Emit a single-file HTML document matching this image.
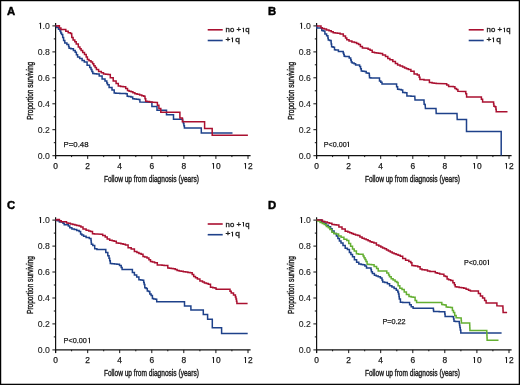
<!DOCTYPE html>
<html><head><meta charset="utf-8"><style>
html,body{margin:0;padding:0;background:#fff;}
body{width:520px;height:385px;overflow:hidden;}
svg{display:block;will-change:transform;}
text{font-family:"Liberation Sans",sans-serif;fill:#1a1a1a;stroke:#1a1a1a;stroke-width:0.25px;}
.lt{font-size:11.3px;font-weight:bold;fill:#000;stroke:#000;stroke-width:0.45px;}
.tl{font-size:8.4px;}
.ty{font-size:8.7px;stroke-width:0.12px;}
.al{font-size:9.4px;stroke-width:0.4px;}
.lg{font-size:7.4px;stroke-width:0.32px;}
.pv{font-size:7.8px;}
.one{fill-opacity:0;stroke-opacity:0;}
.ax{stroke:#111;stroke-width:1.2;fill:none;}
.tk{stroke:#111;stroke-width:1.0;fill:none;}
</style></head><body>
<svg width="520" height="385" viewBox="0 0 520 385">
<rect x="0.6" y="0.6" width="518.75" height="383.75" fill="#fff" stroke="#000" stroke-width="1.25"/>
<text x="7.1" y="15.1" class="lt">A</text>
<path d="M55.6,23.1 V158.7" class="ax"/>
<path d="M55.0,155.7 H250.6" class="ax"/>
<path d="M52.4,155.7 H55.6" class="tk"/>
<text x="49.8" y="158.60" class="tl ty" text-anchor="end">0.0</text>
<path d="M53.8,142.7 H55.6" class="tk"/>
<path d="M52.4,129.7 H55.6" class="tk"/>
<text x="49.8" y="132.64" class="tl ty" text-anchor="end">0.2</text>
<path d="M53.8,116.8 H55.6" class="tk"/>
<path d="M52.4,103.8 H55.6" class="tk"/>
<text x="49.8" y="106.68" class="tl ty" text-anchor="end">0.4</text>
<path d="M53.8,90.8 H55.6" class="tk"/>
<path d="M52.4,77.8 H55.6" class="tk"/>
<text x="49.8" y="80.72" class="tl ty" text-anchor="end">0.6</text>
<path d="M53.8,64.8 H55.6" class="tk"/>
<path d="M52.4,51.9 H55.6" class="tk"/>
<text x="49.8" y="54.76" class="tl ty" text-anchor="end">0.8</text>
<path d="M53.8,38.9 H55.6" class="tk"/>
<path d="M52.4,25.9 H55.6" class="tk"/>
<text x="49.8" y="28.80" class="tl ty" text-anchor="end"><tspan class="one">1</tspan>.0</text>
<path d="M55.6,155.7 V158.9" class="tk"/>
<text x="55.6" y="168.7" class="tl" text-anchor="middle">0</text>
<path d="M71.6,155.7 V157.1" class="tk"/>
<path d="M87.7,155.7 V158.9" class="tk"/>
<text x="87.7" y="168.7" class="tl" text-anchor="middle">2</text>
<path d="M103.7,155.7 V157.1" class="tk"/>
<path d="M119.7,155.7 V158.9" class="tk"/>
<text x="119.7" y="168.7" class="tl" text-anchor="middle">4</text>
<path d="M135.8,155.7 V157.1" class="tk"/>
<path d="M151.8,155.7 V158.9" class="tk"/>
<text x="151.8" y="168.7" class="tl" text-anchor="middle">6</text>
<path d="M167.8,155.7 V157.1" class="tk"/>
<path d="M183.8,155.7 V158.9" class="tk"/>
<text x="183.8" y="168.7" class="tl" text-anchor="middle">8</text>
<path d="M199.9,155.7 V157.1" class="tk"/>
<path d="M215.9,155.7 V158.9" class="tk"/>
<text x="215.9" y="168.7" class="tl" text-anchor="middle"><tspan class="one">1</tspan>0</text>
<path d="M231.9,155.7 V157.1" class="tk"/>
<path d="M248.0,155.7 V158.9" class="tk"/>
<text x="248.0" y="168.7" class="tl" text-anchor="middle"><tspan class="one">1</tspan>2</text>
<text x="151.4" y="181.7" class="al" text-anchor="middle" textLength="95" lengthAdjust="spacingAndGlyphs">Follow up from diagnosis (years)</text>
<text transform="translate(32.8,90.8) rotate(-90)" x="0" y="0" class="al" text-anchor="middle" textLength="58" lengthAdjust="spacingAndGlyphs">Proportion surviving</text>
<path d="M207.7,29.8 H222.7" stroke="#aa1030" stroke-width="1.6"/>
<path d="M207.7,40.5 H222.7" stroke="#1e418a" stroke-width="1.6"/>
<text transform="translate(225.6,32.3) scale(1,0.9)" class="lg" textLength="24.0" lengthAdjust="spacingAndGlyphs">no +<tspan class="one">1</tspan>q</text>
<text transform="translate(225.6,42.2) scale(1,0.9)" class="lg" textLength="14.2" lengthAdjust="spacingAndGlyphs">+<tspan class="one">1</tspan>q</text>
<text x="63.6" y="147.2" class="pv">P=0.48</text>
<path d="M55.6,25.9 L56.6,25.9 L56.6,27.4 L57.6,27.4 L58.5,27.4 L58.5,29.2 L59.4,29.2 L60.0,29.2 L60.0,31.0 L60.6,31.0 L60.8,31.0 L60.8,33.1 L60.9,33.1 L61.6,33.1 L61.6,34.6 L62.4,34.6 L62.7,34.6 L62.7,37.5 L63.0,37.5 L63.6,37.5 L63.6,40.4 L64.2,40.4 L64.8,40.4 L64.8,43.1 L65.4,43.1 L66.9,43.1 L66.9,44.6 L68.4,44.6 L68.6,44.6 L68.6,46.4 L69.1,46.4 L69.1,48.2 L69.3,48.2 L70.9,48.2 L70.9,48.8 L72.5,48.8 L73.4,48.8 L73.4,50.6 L74.3,50.6 L75.2,50.6 L75.2,52.3 L76.1,52.3 L76.4,52.3 L76.4,54.7 L76.7,54.7 L77.6,54.7 L77.6,57.1 L78.5,57.1 L79.7,57.1 L79.7,58.6 L80.9,58.6 L82.1,58.6 L82.1,60.4 L84.3,60.4 L84.3,62.1 L85.5,62.1 L87.1,62.1 L87.1,65.3 L88.7,65.3 L89.7,65.3 L89.7,67.6 L90.6,67.6 L91.0,67.6 L91.0,69.5 L91.9,69.5 L91.9,71.5 L92.8,71.5 L92.8,73.4 L93.2,73.4 L94.3,73.4 L94.3,73.7 L96.5,73.7 L96.5,74.0 L97.6,74.0 L99.2,74.0 L99.2,75.9 L100.8,75.9 L102.1,75.9 L102.1,79.1 L103.4,79.1 L105.0,79.1 L105.0,81.0 L106.5,81.0 L106.8,81.0 L106.8,82.9 L107.5,82.9 L107.5,84.8 L107.8,84.8 L109.1,84.8 L109.1,87.4 L110.4,87.4 L112.0,87.4 L112.0,89.9 L113.5,89.9 L114.2,89.9 L114.2,93.1 L114.8,93.1 L115.8,93.1 L115.8,93.2 L117.8,93.2 L117.8,93.3 L119.8,93.3 L119.8,93.4 L121.9,93.4 L121.9,93.5 L123.9,93.5 L123.9,93.6 L125.9,93.6 L125.9,93.7 L126.9,93.7 L127.2,93.7 L127.2,96.3 L127.5,96.3 L128.6,96.3 L128.6,96.6 L130.9,96.6 L130.9,96.9 L132.0,96.9 L132.7,96.9 L132.7,98.8 L133.3,98.8 L134.4,98.8 L134.4,99.0 L136.4,99.0 L136.4,99.2 L138.6,99.2 L138.6,99.4 L139.6,99.4 L139.9,99.4 L139.9,102.0 L140.3,102.0 L151.9,102.2 L151.9,106.5 L157.0,106.5 L157.0,110.3 L166.5,110.3 L166.5,114.7 L173.5,114.7 L173.5,119.2 L182.4,119.2 L182.7,119.2 L182.7,121.4 L183.4,121.4 L183.4,123.6 L183.7,123.6 L183.9,123.6 L183.9,125.8 L184.4,125.8 L184.4,128.1 L184.6,128.1 L201.3,128.1 L201.3,132.9 L232.5,132.9" fill="none" stroke="#1e418a" stroke-width="1.5" stroke-linejoin="miter" stroke-linecap="butt"/>
<path d="M55.6,25.9 L58.8,25.7 L59.4,25.7 L59.4,28.0 L60.0,28.0 L60.9,28.0 L60.9,29.5 L61.8,29.5 L64.8,29.6 L65.8,29.6 L65.8,31.3 L66.9,31.3 L68.2,31.3 L68.2,32.8 L69.5,32.8 L70.5,32.8 L70.5,33.5 L71.6,33.5 L71.7,33.5 L71.7,35.5 L71.8,35.5 L71.8,37.5 L71.9,37.5 L73.1,37.5 L73.1,39.9 L74.3,39.9 L74.8,39.9 L74.8,41.7 L75.2,41.7 L76.2,41.7 L76.2,44.1 L77.3,44.1 L78.3,44.1 L78.3,47.0 L79.3,47.0 L79.9,47.0 L79.9,48.8 L81.1,48.8 L81.1,50.6 L81.7,50.6 L82.7,50.6 L82.7,52.5 L84.5,52.5 L84.5,54.4 L85.5,54.4 L86.2,54.4 L86.2,57.0 L87.4,57.0 L87.4,59.5 L88.1,59.5 L89.0,59.5 L89.0,60.7 L91.0,60.7 L91.0,61.9 L91.9,61.9 L92.6,61.9 L92.6,63.8 L93.8,63.8 L93.8,65.7 L94.5,65.7 L95.1,65.7 L95.1,67.6 L96.4,67.6 L96.4,69.5 L97.0,69.5 L98.6,69.5 L98.6,71.5 L100.2,71.5 L101.3,71.5 L101.3,72.8 L103.5,72.8 L103.5,74.0 L104.6,74.0 L105.7,74.0 L105.7,74.3 L108.0,74.3 L108.0,74.6 L109.1,74.6 L110.3,74.6 L110.3,77.8 L111.6,77.8 L113.2,77.8 L113.2,81.0 L114.8,81.0 L116.1,81.0 L116.1,83.5 L117.4,83.5 L118.3,83.5 L118.3,86.1 L119.3,86.1 L120.6,86.1 L120.6,86.4 L123.1,86.4 L123.1,86.7 L124.4,86.7 L125.7,86.7 L125.7,88.6 L126.9,88.6 L127.5,88.6 L127.5,90.5 L128.2,90.5 L129.1,90.5 L129.1,91.2 L131.1,91.2 L131.1,91.8 L132.0,91.8 L132.9,91.8 L132.9,92.8 L134.9,92.8 L134.9,93.7 L135.8,93.7 L137.1,93.7 L137.1,94.3 L139.6,94.3 L139.6,95.0 L140.9,95.0 L141.8,95.0 L141.8,95.7 L143.8,95.7 L143.8,96.3 L144.7,96.3 L145.0,96.3 L145.0,98.8 L145.7,98.8 L145.7,101.3 L146.0,101.3 L147.2,101.3 L147.2,101.6 L149.6,101.6 L149.6,101.9 L152.0,101.9 L152.0,102.2 L153.2,102.2 L157.3,102.4 L157.4,102.4 L157.4,105.2 L157.6,105.2 L158.9,105.2 L158.9,108.4 L160.8,108.4 L160.8,112.2 L179.9,112.2 L179.9,117.9 L182.4,117.9 L182.4,121.7 L204.6,121.7 L204.6,128.5 L212.2,128.5 L212.2,135.2 L247.9,135.2" fill="none" stroke="#aa1030" stroke-width="1.5" stroke-linejoin="miter" stroke-linecap="butt"/>
<text x="268.1" y="15.1" class="lt">B</text>
<path d="M316.6,23.1 V158.7" class="ax"/>
<path d="M316.0,155.7 H511.6" class="ax"/>
<path d="M313.4,155.7 H316.6" class="tk"/>
<text x="310.8" y="158.60" class="tl ty" text-anchor="end">0.0</text>
<path d="M314.8,142.7 H316.6" class="tk"/>
<path d="M313.4,129.7 H316.6" class="tk"/>
<text x="310.8" y="132.64" class="tl ty" text-anchor="end">0.2</text>
<path d="M314.8,116.8 H316.6" class="tk"/>
<path d="M313.4,103.8 H316.6" class="tk"/>
<text x="310.8" y="106.68" class="tl ty" text-anchor="end">0.4</text>
<path d="M314.8,90.8 H316.6" class="tk"/>
<path d="M313.4,77.8 H316.6" class="tk"/>
<text x="310.8" y="80.72" class="tl ty" text-anchor="end">0.6</text>
<path d="M314.8,64.8 H316.6" class="tk"/>
<path d="M313.4,51.9 H316.6" class="tk"/>
<text x="310.8" y="54.76" class="tl ty" text-anchor="end">0.8</text>
<path d="M314.8,38.9 H316.6" class="tk"/>
<path d="M313.4,25.9 H316.6" class="tk"/>
<text x="310.8" y="28.80" class="tl ty" text-anchor="end"><tspan class="one">1</tspan>.0</text>
<path d="M316.6,155.7 V158.9" class="tk"/>
<text x="316.6" y="168.7" class="tl" text-anchor="middle">0</text>
<path d="M332.6,155.7 V157.1" class="tk"/>
<path d="M348.7,155.7 V158.9" class="tk"/>
<text x="348.7" y="168.7" class="tl" text-anchor="middle">2</text>
<path d="M364.7,155.7 V157.1" class="tk"/>
<path d="M380.7,155.7 V158.9" class="tk"/>
<text x="380.7" y="168.7" class="tl" text-anchor="middle">4</text>
<path d="M396.8,155.7 V157.1" class="tk"/>
<path d="M412.8,155.7 V158.9" class="tk"/>
<text x="412.8" y="168.7" class="tl" text-anchor="middle">6</text>
<path d="M428.8,155.7 V157.1" class="tk"/>
<path d="M444.8,155.7 V158.9" class="tk"/>
<text x="444.8" y="168.7" class="tl" text-anchor="middle">8</text>
<path d="M460.9,155.7 V157.1" class="tk"/>
<path d="M476.9,155.7 V158.9" class="tk"/>
<text x="476.9" y="168.7" class="tl" text-anchor="middle"><tspan class="one">1</tspan>0</text>
<path d="M492.9,155.7 V157.1" class="tk"/>
<path d="M509.0,155.7 V158.9" class="tk"/>
<text x="509.0" y="168.7" class="tl" text-anchor="middle"><tspan class="one">1</tspan>2</text>
<text x="412.4" y="181.7" class="al" text-anchor="middle" textLength="95" lengthAdjust="spacingAndGlyphs">Follow up from diagnosis (years)</text>
<text transform="translate(293.8,90.8) rotate(-90)" x="0" y="0" class="al" text-anchor="middle" textLength="58" lengthAdjust="spacingAndGlyphs">Proportion surviving</text>
<path d="M468.7,29.8 H483.7" stroke="#aa1030" stroke-width="1.6"/>
<path d="M468.7,40.5 H483.7" stroke="#1e418a" stroke-width="1.6"/>
<text transform="translate(486.6,32.3) scale(1,0.9)" class="lg" textLength="24.0" lengthAdjust="spacingAndGlyphs">no +<tspan class="one">1</tspan>q</text>
<text transform="translate(486.6,42.2) scale(1,0.9)" class="lg" textLength="14.2" lengthAdjust="spacingAndGlyphs">+<tspan class="one">1</tspan>q</text>
<text x="323.8" y="147.1" class="pv" textLength="26.8" lengthAdjust="spacingAndGlyphs">P&lt;0.00<tspan class="one">1</tspan></text>
<path d="M316.6,25.9 L316.8,25.9 L316.8,28.0 L316.9,28.0 L321.3,28.0 L321.8,28.0 L321.8,30.4 L322.2,30.4 L323.2,30.4 L323.2,31.0 L324.3,31.0 L324.9,31.0 L324.9,34.0 L325.5,34.0 L326.6,34.0 L326.6,35.7 L327.6,35.7 L327.9,35.7 L327.9,38.1 L328.2,38.1 L328.3,40.1 L329.6,40.1 L329.6,40.4 L331.0,40.4 L331.1,40.4 L331.1,42.2 L331.2,42.2 L331.2,44.0 L331.3,44.0 L331.6,44.0 L331.6,46.7 L331.9,46.7 L333.1,46.7 L333.1,47.3 L334.3,47.3 L334.5,47.3 L334.5,49.7 L334.6,49.7 L335.5,49.7 L335.5,49.9 L337.2,49.9 L337.2,50.0 L338.1,50.0 L338.4,50.0 L338.4,51.4 L338.7,51.4 L342.9,51.4 L343.2,51.4 L343.2,52.9 L343.5,52.9 L343.7,52.9 L343.7,54.5 L344.2,54.5 L344.2,56.2 L344.4,56.2 L345.3,56.2 L345.3,56.4 L347.1,56.4 L347.1,56.5 L348.0,56.5 L349.2,56.5 L349.2,58.0 L350.4,58.0 L350.7,58.0 L350.7,60.0 L351.3,60.0 L351.3,61.9 L351.6,61.9 L352.2,61.9 L352.2,63.1 L352.8,63.1 L354.1,63.1 L354.1,63.7 L355.5,63.7 L355.6,63.7 L355.6,64.9 L355.8,64.9 L359.0,64.9 L359.6,64.9 L359.6,66.6 L360.2,66.6 L360.6,66.6 L360.6,68.8 L361.3,68.8 L361.3,71.1 L361.7,71.1 L362.7,71.1 L362.7,71.2 L364.6,71.2 L364.6,71.4 L365.6,71.4 L366.2,71.4 L366.2,72.9 L366.8,72.9 L368.0,72.9 L368.0,73.2 L369.2,73.2 L369.3,73.2 L369.3,75.5 L369.5,75.5 L369.5,77.8 L369.6,77.8 L370.8,77.8 L370.8,77.9 L373.2,77.9 L373.2,77.9 L375.6,77.9 L375.6,78.0 L378.0,78.0 L378.0,78.1 L379.2,78.1 L379.5,78.1 L379.5,81.0 L379.8,81.0 L380.8,81.0 L380.8,82.3 L381.7,82.3 L382.0,82.3 L382.0,83.9 L382.4,83.9 L396.3,83.9 L396.6,83.9 L396.6,86.7 L397.0,86.7 L397.6,86.7 L397.6,89.3 L398.3,89.3 L399.2,89.3 L399.2,89.6 L401.2,89.6 L401.2,89.9 L402.1,89.9 L402.7,89.9 L402.7,92.4 L403.3,92.4 L404.9,92.4 L404.9,92.8 L406.5,92.8 L406.9,92.8 L406.9,96.0 L407.2,96.0 L408.5,96.0 L408.5,96.1 L411.0,96.1 L411.0,96.2 L413.5,96.2 L413.5,96.3 L414.8,96.3 L415.0,99.9 L423.9,99.9 L424.0,99.9 L424.0,102.1 L424.1,102.1 L424.1,104.2 L424.2,104.2 L424.7,104.2 L424.7,104.6 L425.2,104.6 L425.4,108.4 L436.0,108.4 L436.2,113.6 L457.0,113.6 L457.2,119.6 L466.5,119.6 L466.5,131.4 L501.2,131.4 L501.2,155.4" fill="none" stroke="#1e418a" stroke-width="1.5" stroke-linejoin="miter" stroke-linecap="butt"/>
<path d="M316.6,25.9 L320.7,25.9 L321.0,25.9 L321.0,27.7 L321.4,27.7 L322.3,27.7 L322.3,28.4 L324.2,28.4 L324.2,29.0 L325.2,29.0 L326.5,29.0 L326.5,29.9 L329.0,29.9 L329.0,30.7 L330.3,30.7 L331.2,30.7 L331.2,31.8 L333.2,31.8 L333.2,32.8 L334.1,32.8 L335.2,32.8 L335.2,33.0 L337.4,33.0 L337.4,33.2 L338.5,33.2 L340.1,33.2 L340.1,34.1 L341.7,34.1 L343.3,34.1 L343.3,36.0 L344.9,36.0 L345.5,36.0 L345.5,37.9 L346.8,37.9 L346.8,39.8 L347.4,39.8 L349.0,39.8 L349.0,41.1 L350.6,41.1 L351.9,41.1 L351.9,41.9 L354.4,41.9 L354.4,42.6 L355.7,42.6 L356.6,42.6 L356.6,43.6 L358.6,43.6 L358.6,44.6 L359.5,44.6 L360.4,44.6 L360.4,46.4 L362.4,46.4 L362.4,48.1 L363.3,48.1 L367.2,48.3 L368.1,48.3 L368.1,49.2 L370.1,49.2 L370.1,50.2 L371.0,50.2 L372.2,50.2 L372.2,52.3 L373.5,52.3 L374.5,52.3 L374.5,52.7 L376.5,52.7 L376.5,53.1 L377.5,53.1 L378.5,53.1 L378.5,53.2 L380.4,53.2 L380.4,53.4 L381.4,53.4 L382.6,53.4 L382.6,55.0 L383.9,55.0 L385.5,55.0 L385.5,56.5 L387.1,56.5 L387.8,56.5 L387.8,58.4 L388.4,58.4 L389.9,58.4 L389.9,59.7 L391.5,59.7 L392.8,59.7 L392.8,61.6 L394.1,61.6 L395.4,61.6 L395.4,63.5 L396.6,63.5 L397.6,63.5 L397.6,65.1 L398.5,65.1 L400.1,65.1 L400.1,66.1 L401.7,66.1 L402.6,66.1 L402.6,67.0 L404.6,67.0 L404.6,68.0 L405.5,68.0 L406.5,68.0 L406.5,68.8 L408.4,68.8 L408.4,69.5 L409.4,69.5 L410.9,69.5 L410.9,71.2 L412.5,71.2 L414.1,71.2 L414.1,74.1 L415.7,74.1 L417.3,74.1 L417.3,75.0 L418.9,75.0 L419.2,75.0 L419.2,77.2 L419.9,77.2 L419.9,79.4 L420.2,79.4 L421.5,79.4 L421.5,79.6 L424.0,79.6 L424.0,79.9 L426.5,79.9 L426.5,80.1 L427.8,80.1 L429.4,80.1 L429.4,82.6 L431.0,82.6 L432.1,82.6 L432.1,82.9 L434.1,82.9 L434.1,83.2 L436.2,83.2 L436.2,83.5 L437.3,83.5 L445.9,83.7 L446.7,83.7 L446.7,85.1 L447.5,85.1 L448.6,85.1 L448.6,86.4 L449.8,86.4 L451.0,86.4 L451.0,86.6 L453.3,86.6 L453.3,86.8 L454.5,86.8 L454.9,86.8 L454.9,88.4 L455.3,88.4 L456.5,88.4 L456.5,89.5 L457.6,89.5 L457.9,89.5 L457.9,91.3 L458.1,91.3 L465.4,91.5 L465.8,91.5 L465.8,93.7 L466.2,93.7 L466.6,93.7 L466.6,96.9 L467.0,96.9 L481.0,96.9 L481.4,96.9 L481.4,99.3 L481.8,99.3 L482.6,99.3 L482.6,102.0 L483.4,102.0 L493.5,102.0 L493.6,102.0 L493.6,104.1 L493.9,104.1 L493.9,106.2 L494.0,106.2 L494.9,106.2 L494.9,106.7 L495.8,106.7 L495.9,106.7 L495.9,109.2 L496.2,109.2 L496.2,111.7 L496.3,111.7 L507.5,111.7" fill="none" stroke="#aa1030" stroke-width="1.5" stroke-linejoin="miter" stroke-linecap="butt"/>
<text x="7.1" y="209.3" class="lt">C</text>
<path d="M55.6,217.3 V352.9" class="ax"/>
<path d="M55.0,349.9 H250.6" class="ax"/>
<path d="M52.4,349.9 H55.6" class="tk"/>
<text x="49.8" y="352.80" class="tl ty" text-anchor="end">0.0</text>
<path d="M53.8,336.9 H55.6" class="tk"/>
<path d="M52.4,323.9 H55.6" class="tk"/>
<text x="49.8" y="326.84" class="tl ty" text-anchor="end">0.2</text>
<path d="M53.8,311.0 H55.6" class="tk"/>
<path d="M52.4,298.0 H55.6" class="tk"/>
<text x="49.8" y="300.88" class="tl ty" text-anchor="end">0.4</text>
<path d="M53.8,285.0 H55.6" class="tk"/>
<path d="M52.4,272.0 H55.6" class="tk"/>
<text x="49.8" y="274.92" class="tl ty" text-anchor="end">0.6</text>
<path d="M53.8,259.0 H55.6" class="tk"/>
<path d="M52.4,246.1 H55.6" class="tk"/>
<text x="49.8" y="248.96" class="tl ty" text-anchor="end">0.8</text>
<path d="M53.8,233.1 H55.6" class="tk"/>
<path d="M52.4,220.1 H55.6" class="tk"/>
<text x="49.8" y="223.00" class="tl ty" text-anchor="end"><tspan class="one">1</tspan>.0</text>
<path d="M55.6,349.9 V353.1" class="tk"/>
<text x="55.6" y="362.9" class="tl" text-anchor="middle">0</text>
<path d="M71.6,349.9 V351.3" class="tk"/>
<path d="M87.7,349.9 V353.1" class="tk"/>
<text x="87.7" y="362.9" class="tl" text-anchor="middle">2</text>
<path d="M103.7,349.9 V351.3" class="tk"/>
<path d="M119.7,349.9 V353.1" class="tk"/>
<text x="119.7" y="362.9" class="tl" text-anchor="middle">4</text>
<path d="M135.8,349.9 V351.3" class="tk"/>
<path d="M151.8,349.9 V353.1" class="tk"/>
<text x="151.8" y="362.9" class="tl" text-anchor="middle">6</text>
<path d="M167.8,349.9 V351.3" class="tk"/>
<path d="M183.8,349.9 V353.1" class="tk"/>
<text x="183.8" y="362.9" class="tl" text-anchor="middle">8</text>
<path d="M199.9,349.9 V351.3" class="tk"/>
<path d="M215.9,349.9 V353.1" class="tk"/>
<text x="215.9" y="362.9" class="tl" text-anchor="middle"><tspan class="one">1</tspan>0</text>
<path d="M231.9,349.9 V351.3" class="tk"/>
<path d="M248.0,349.9 V353.1" class="tk"/>
<text x="248.0" y="362.9" class="tl" text-anchor="middle"><tspan class="one">1</tspan>2</text>
<text x="151.4" y="375.9" class="al" text-anchor="middle" textLength="95" lengthAdjust="spacingAndGlyphs">Follow up from diagnosis (years)</text>
<text transform="translate(32.8,285.0) rotate(-90)" x="0" y="0" class="al" text-anchor="middle" textLength="58" lengthAdjust="spacingAndGlyphs">Proportion surviving</text>
<path d="M207.7,224.0 H222.7" stroke="#aa1030" stroke-width="1.6"/>
<path d="M207.7,234.7 H222.7" stroke="#1e418a" stroke-width="1.6"/>
<text transform="translate(225.6,226.5) scale(1,0.9)" class="lg" textLength="24.0" lengthAdjust="spacingAndGlyphs">no +<tspan class="one">1</tspan>q</text>
<text transform="translate(225.6,236.4) scale(1,0.9)" class="lg" textLength="14.2" lengthAdjust="spacingAndGlyphs">+<tspan class="one">1</tspan>q</text>
<text x="63.6" y="343.2" class="pv" textLength="27.4" lengthAdjust="spacingAndGlyphs">P&lt;0.00<tspan class="one">1</tspan></text>
<path d="M55.6,219.9 L57.2,219.9 L57.2,220.8 L58.8,220.8 L59.4,220.8 L59.4,222.0 L60.0,222.0 L62.4,222.0 L63.0,222.0 L63.0,223.2 L63.6,223.2 L64.2,223.2 L64.2,224.7 L64.8,224.7 L67.7,224.7 L68.3,224.7 L68.3,225.9 L68.9,225.9 L69.8,225.9 L69.8,227.7 L70.7,227.7 L71.9,227.7 L71.9,228.9 L73.1,228.9 L74.3,228.9 L74.3,229.4 L75.5,229.4 L76.7,229.4 L76.7,230.6 L77.9,230.6 L79.1,230.6 L79.1,231.5 L80.3,231.5 L80.6,231.5 L80.6,233.9 L80.9,233.9 L81.8,233.9 L81.8,235.1 L82.7,235.1 L83.6,235.1 L83.6,236.3 L84.5,236.3 L86.1,236.3 L86.1,237.6 L87.7,237.6 L89.3,237.6 L89.3,238.5 L90.9,238.5 L91.0,238.5 L91.0,240.4 L91.2,240.4 L91.2,242.4 L91.4,242.4 L91.4,244.3 L91.5,244.3 L92.8,244.3 L92.8,245.5 L94.1,245.5 L94.7,245.5 L94.7,248.7 L95.3,248.7 L96.9,248.7 L96.9,249.6 L98.5,249.6 L104.9,249.6 L105.8,249.6 L105.8,252.5 L106.8,252.5 L107.8,252.5 L107.8,255.7 L108.7,255.7 L109.0,255.7 L109.0,258.2 L109.7,258.2 L109.7,260.8 L110.0,260.8 L110.3,260.8 L110.3,263.4 L110.6,263.4 L111.9,263.4 L111.9,263.7 L114.4,263.7 L114.4,264.0 L116.9,264.0 L116.9,264.3 L118.2,264.3 L119.5,264.3 L119.5,265.5 L120.7,265.5 L121.2,265.5 L121.2,267.4 L122.1,267.4 L122.1,269.4 L122.6,269.4 L131.5,269.4 L132.4,269.4 L132.4,272.5 L133.4,272.5 L134.4,272.5 L134.4,275.1 L135.4,275.1 L136.7,275.1 L136.7,277.0 L137.9,277.0 L138.9,277.0 L138.9,279.8 L139.8,279.8 L140.7,279.8 L140.7,280.0 L142.5,280.0 L142.5,280.2 L143.4,280.2 L143.7,280.2 L143.7,282.4 L144.2,282.4 L144.2,284.5 L144.5,284.5 L144.8,284.5 L144.8,287.7 L145.1,287.7 L146.1,287.7 L146.1,288.4 L147.0,288.4 L147.3,288.4 L147.3,290.9 L147.6,290.9 L148.6,290.9 L148.6,291.5 L149.5,291.5 L149.8,291.5 L149.8,294.1 L150.2,294.1 L151.1,294.1 L151.1,295.4 L152.1,295.4 L152.4,295.4 L152.4,298.5 L152.7,298.5 L153.6,298.5 L153.6,298.9 L155.6,298.9 L155.6,299.2 L156.5,299.2 L156.7,299.2 L156.7,301.8 L156.9,301.8 L184.5,301.8 L184.5,306.0 L190.9,306.0 L190.9,310.1 L203.3,310.1 L203.3,314.6 L207.6,314.6 L207.6,319.3 L212.3,319.3 L212.3,327.7 L221.6,327.7 L221.6,333.5 L247.7,333.5" fill="none" stroke="#1e418a" stroke-width="1.5" stroke-linejoin="miter" stroke-linecap="butt"/>
<path d="M55.6,219.9 L57.2,219.9 L57.2,219.4 L58.8,219.4 L59.4,219.4 L59.4,220.8 L60.0,220.8 L61.2,220.8 L61.2,221.7 L62.4,221.7 L66.0,221.7 L66.5,221.7 L66.5,222.9 L66.9,222.9 L68.2,222.9 L68.2,223.2 L69.5,223.2 L70.4,223.2 L70.4,224.1 L71.3,224.1 L72.8,224.1 L72.8,224.4 L74.3,224.4 L74.9,224.4 L74.9,225.0 L75.5,225.0 L76.7,225.0 L76.7,225.6 L77.9,225.6 L79.1,225.6 L79.1,225.9 L80.3,225.9 L80.9,225.9 L80.9,227.1 L81.5,227.1 L83.0,227.1 L83.0,229.0 L84.5,229.0 L86.1,229.0 L86.1,230.3 L87.7,230.3 L88.7,230.3 L88.7,230.9 L90.5,230.9 L90.5,231.5 L91.5,231.5 L92.5,231.5 L92.5,233.8 L93.4,233.8 L94.4,233.8 L94.4,233.9 L96.3,233.9 L96.3,234.1 L97.3,234.1 L101.1,234.3 L102.7,234.3 L102.7,235.4 L104.3,235.4 L105.2,235.4 L105.2,236.9 L106.2,236.9 L107.2,236.9 L107.2,238.9 L108.1,238.9 L109.7,238.9 L109.7,240.2 L111.3,240.2 L112.2,240.2 L112.2,240.8 L114.1,240.8 L114.1,241.3 L115.1,241.3 L116.3,241.3 L116.3,242.9 L117.5,242.9 L118.6,242.9 L118.6,243.3 L120.9,243.3 L120.9,243.7 L122.0,243.7 L123.1,243.7 L123.1,244.3 L125.4,244.3 L125.4,244.9 L126.5,244.9 L128.1,244.9 L128.1,247.7 L129.6,247.7 L131.2,247.7 L131.2,249.0 L132.8,249.0 L134.4,249.0 L134.4,251.5 L136.0,251.5 L136.9,251.5 L136.9,252.4 L138.9,252.4 L138.9,253.4 L139.8,253.4 L141.1,253.4 L141.1,254.3 L142.4,254.3 L143.0,254.3 L143.0,256.4 L143.6,256.4 L144.7,256.4 L144.7,257.1 L147.0,257.1 L147.0,257.9 L148.1,257.9 L148.9,257.9 L148.9,259.7 L150.5,259.7 L150.5,261.5 L151.3,261.5 L152.4,261.5 L152.4,262.1 L154.6,262.1 L154.6,262.7 L155.7,262.7 L157.3,262.7 L157.3,264.9 L158.9,264.9 L159.9,264.9 L159.9,265.0 L162.0,265.0 L162.0,265.2 L164.1,265.2 L164.1,265.4 L166.2,265.4 L166.2,265.5 L167.2,265.5 L167.8,265.5 L167.8,268.1 L168.4,268.1 L169.4,268.1 L169.4,268.3 L171.3,268.3 L171.3,268.5 L173.2,268.5 L173.2,268.7 L174.2,268.7 L175.2,268.7 L175.2,269.6 L177.1,269.6 L177.1,270.6 L178.1,270.6 L179.2,270.6 L179.2,271.0 L181.2,271.0 L181.2,271.3 L183.3,271.3 L183.3,271.7 L184.4,271.7 L185.6,271.7 L185.6,272.1 L187.9,272.1 L187.9,272.4 L190.2,272.4 L190.2,272.8 L191.4,272.8 L192.2,272.8 L192.2,274.6 L193.7,274.6 L193.7,276.4 L194.5,276.4 L195.5,276.4 L195.5,277.7 L197.4,277.7 L197.4,279.0 L198.4,279.0 L199.9,279.0 L199.9,281.1 L201.5,281.1 L202.5,281.1 L202.5,282.1 L204.4,282.1 L204.4,283.1 L205.4,283.1 L206.4,283.1 L206.4,283.6 L208.3,283.6 L208.3,284.2 L209.3,284.2 L210.5,284.2 L210.5,287.3 L211.7,287.3 L212.8,287.3 L212.8,287.7 L214.8,287.7 L214.8,288.1 L215.9,288.1 L216.1,288.1 L216.1,289.3 L216.3,289.3 L229.6,289.3 L230.0,289.3 L230.0,291.2 L230.4,291.2 L231.2,291.2 L231.2,293.1 L231.9,293.1 L233.5,293.1 L233.5,295.1 L235.1,295.1 L235.4,295.1 L235.4,297.1 L236.0,297.1 L236.0,299.0 L236.3,299.0 L236.5,299.0 L236.5,301.2 L236.9,301.2 L236.9,303.4 L237.1,303.4 L247.6,303.4" fill="none" stroke="#aa1030" stroke-width="1.5" stroke-linejoin="miter" stroke-linecap="butt"/>
<text x="268.1" y="209.3" class="lt">D</text>
<path d="M316.6,217.3 V352.9" class="ax"/>
<path d="M316.0,349.9 H511.6" class="ax"/>
<path d="M313.4,349.9 H316.6" class="tk"/>
<text x="310.8" y="352.80" class="tl ty" text-anchor="end">0.0</text>
<path d="M314.8,336.9 H316.6" class="tk"/>
<path d="M313.4,323.9 H316.6" class="tk"/>
<text x="310.8" y="326.84" class="tl ty" text-anchor="end">0.2</text>
<path d="M314.8,311.0 H316.6" class="tk"/>
<path d="M313.4,298.0 H316.6" class="tk"/>
<text x="310.8" y="300.88" class="tl ty" text-anchor="end">0.4</text>
<path d="M314.8,285.0 H316.6" class="tk"/>
<path d="M313.4,272.0 H316.6" class="tk"/>
<text x="310.8" y="274.92" class="tl ty" text-anchor="end">0.6</text>
<path d="M314.8,259.0 H316.6" class="tk"/>
<path d="M313.4,246.1 H316.6" class="tk"/>
<text x="310.8" y="248.96" class="tl ty" text-anchor="end">0.8</text>
<path d="M314.8,233.1 H316.6" class="tk"/>
<path d="M313.4,220.1 H316.6" class="tk"/>
<text x="310.8" y="223.00" class="tl ty" text-anchor="end"><tspan class="one">1</tspan>.0</text>
<path d="M316.6,349.9 V353.1" class="tk"/>
<text x="316.6" y="362.9" class="tl" text-anchor="middle">0</text>
<path d="M332.6,349.9 V351.3" class="tk"/>
<path d="M348.7,349.9 V353.1" class="tk"/>
<text x="348.7" y="362.9" class="tl" text-anchor="middle">2</text>
<path d="M364.7,349.9 V351.3" class="tk"/>
<path d="M380.7,349.9 V353.1" class="tk"/>
<text x="380.7" y="362.9" class="tl" text-anchor="middle">4</text>
<path d="M396.8,349.9 V351.3" class="tk"/>
<path d="M412.8,349.9 V353.1" class="tk"/>
<text x="412.8" y="362.9" class="tl" text-anchor="middle">6</text>
<path d="M428.8,349.9 V351.3" class="tk"/>
<path d="M444.8,349.9 V353.1" class="tk"/>
<text x="444.8" y="362.9" class="tl" text-anchor="middle">8</text>
<path d="M460.9,349.9 V351.3" class="tk"/>
<path d="M476.9,349.9 V353.1" class="tk"/>
<text x="476.9" y="362.9" class="tl" text-anchor="middle"><tspan class="one">1</tspan>0</text>
<path d="M492.9,349.9 V351.3" class="tk"/>
<path d="M509.0,349.9 V353.1" class="tk"/>
<text x="509.0" y="362.9" class="tl" text-anchor="middle"><tspan class="one">1</tspan>2</text>
<text x="412.4" y="375.9" class="al" text-anchor="middle" textLength="95" lengthAdjust="spacingAndGlyphs">Follow up from diagnosis (years)</text>
<text transform="translate(293.8,285.0) rotate(-90)" x="0" y="0" class="al" text-anchor="middle" textLength="58" lengthAdjust="spacingAndGlyphs">Proportion surviving</text>
<text x="463.9" y="265.0" class="pv" textLength="26.8" lengthAdjust="spacingAndGlyphs">P&lt;0.00<tspan class="one">1</tspan></text>
<text x="382.4" y="324.0" class="pv" textLength="23.2" lengthAdjust="spacingAndGlyphs">P=0.22</text>
<path d="M316.6,219.9 L320.1,219.9 L321.4,219.9 L321.4,221.4 L322.6,221.4 L323.9,221.4 L323.9,223.3 L325.2,223.3 L326.1,223.3 L326.1,225.2 L327.1,225.2 L328.4,225.2 L328.4,226.7 L329.6,226.7 L330.6,226.7 L330.6,228.7 L331.5,228.7 L332.1,228.7 L332.1,230.9 L332.8,230.9 L334.1,230.9 L334.1,233.4 L335.4,233.4 L336.4,233.4 L336.4,236.0 L337.3,236.0 L337.9,236.0 L337.9,238.5 L338.5,238.5 L339.4,238.5 L339.4,241.1 L340.4,241.1 L341.0,241.1 L341.0,243.0 L341.7,243.0 L343.0,243.0 L343.0,245.5 L344.3,245.5 L345.2,245.5 L345.2,248.3 L346.2,248.3 L347.4,248.3 L347.4,249.6 L348.7,249.6 L349.4,249.6 L349.4,252.5 L350.0,252.5 L350.9,252.5 L350.9,254.4 L351.9,254.4 L352.5,254.4 L352.5,256.7 L353.2,256.7 L354.4,256.7 L354.4,259.8 L355.6,259.8 L356.6,259.8 L356.6,262.2 L357.5,262.2 L358.8,262.2 L358.8,264.1 L360.1,264.1 L361.1,264.1 L361.1,264.4 L362.9,264.4 L362.9,264.7 L363.9,264.7 L364.9,264.7 L364.9,266.0 L365.8,266.0 L366.5,266.0 L366.5,267.9 L367.1,267.9 L370.9,267.9 L371.0,267.9 L371.0,269.8 L371.4,269.8 L371.4,271.7 L371.5,271.7 L372.4,271.7 L372.4,273.6 L373.4,273.6 L374.4,273.6 L374.4,275.3 L375.4,275.3 L376.3,275.3 L376.3,276.1 L378.2,276.1 L378.2,276.8 L379.2,276.8 L380.4,276.8 L380.4,278.1 L381.7,278.1 L382.0,278.1 L382.0,280.0 L382.7,280.0 L382.7,281.9 L383.0,281.9 L384.6,281.9 L384.6,282.5 L386.2,282.5 L387.4,282.5 L387.4,283.8 L388.7,283.8 L389.6,283.8 L389.6,285.7 L390.6,285.7 L391.9,285.7 L391.9,287.0 L393.2,287.0 L394.1,287.0 L394.1,288.5 L395.1,288.5 L396.3,288.5 L396.3,290.2 L397.5,290.2 L397.8,290.2 L397.8,292.1 L398.5,292.1 L398.5,294.0 L398.8,294.0 L399.0,294.0 L399.0,296.6 L399.3,296.6 L399.3,299.1 L399.5,299.1 L400.4,299.1 L400.4,302.3 L401.4,302.3 L402.7,302.3 L402.7,302.4 L405.2,302.4 L405.2,302.5 L407.7,302.5 L407.7,302.6 L409.0,302.6 L409.6,302.6 L409.6,304.8 L410.3,304.8 L411.2,304.8 L411.2,306.7 L412.2,306.7 L413.1,306.7 L413.1,308.2 L414.1,308.2 L433.2,308.2 L433.4,308.2 L433.4,309.9 L433.6,309.9 L433.6,311.5 L433.8,311.5 L434.9,311.5 L434.9,311.6 L437.0,311.6 L437.0,311.6 L439.2,311.6 L439.2,311.7 L441.4,311.7 L441.4,311.7 L443.5,311.7 L443.5,311.8 L444.6,311.8 L444.8,311.8 L444.8,314.1 L445.1,314.1 L445.1,316.4 L445.3,316.4 L446.3,316.4 L446.3,316.5 L448.4,316.5 L448.4,316.5 L450.4,316.5 L450.4,316.6 L452.5,316.6 L452.5,316.7 L453.5,316.7 L453.6,316.7 L453.6,318.9 L454.0,318.9 L454.0,321.2 L454.1,321.2 L455.4,321.2 L455.4,321.4 L457.9,321.4 L457.9,321.6 L459.2,321.6 L459.3,321.6 L459.3,323.5 L459.6,323.5 L459.6,325.5 L459.9,325.5 L459.9,327.4 L460.0,327.4 L460.3,327.4 L460.3,330.1 L460.8,330.1 L460.8,332.9 L461.1,332.9 L501.6,332.9" fill="none" stroke="#1e418a" stroke-width="1.5" stroke-linejoin="miter" stroke-linecap="butt"/>
<path d="M316.6,219.9 L317.7,219.9 L317.7,221.1 L318.8,221.1 L320.1,221.1 L320.1,222.4 L321.4,222.4 L322.3,222.4 L322.3,223.4 L324.2,223.4 L324.2,224.5 L325.2,224.5 L326.4,224.5 L326.4,226.5 L327.7,226.5 L328.4,226.5 L328.4,227.7 L329.0,227.7 L329.9,227.7 L329.9,229.6 L330.9,229.6 L331.9,229.6 L331.9,232.2 L332.8,232.2 L333.8,232.2 L333.8,233.4 L334.7,233.4 L336.0,233.4 L336.0,234.1 L337.3,234.1 L338.6,234.1 L338.6,236.0 L339.8,236.0 L341.1,236.0 L341.1,237.3 L342.4,237.3 L343.9,237.3 L343.9,239.2 L345.5,239.2 L346.8,239.2 L346.8,240.4 L348.1,240.4 L348.8,240.4 L348.8,243.6 L349.4,243.6 L350.6,243.6 L350.6,246.2 L351.9,246.2 L352.5,246.2 L352.5,249.1 L353.2,249.1 L354.2,249.1 L354.2,251.0 L355.2,251.0 L356.4,251.0 L356.4,253.7 L357.5,253.7 L358.5,253.7 L358.5,254.2 L359.5,254.2 L362.6,254.2 L363.1,254.2 L363.1,255.9 L364.0,255.9 L364.0,257.7 L364.5,257.7 L365.0,257.7 L365.0,259.6 L366.0,259.6 L366.0,261.5 L366.5,261.5 L367.1,261.5 L367.1,264.3 L367.7,264.3 L369.0,264.3 L369.0,264.5 L371.5,264.5 L371.5,264.7 L372.8,264.7 L374.1,264.7 L374.1,266.6 L375.4,266.6 L376.6,266.6 L376.6,268.5 L377.9,268.5 L378.2,268.5 L378.2,271.1 L378.5,271.1 L385.5,271.1 L386.8,271.1 L386.8,273.0 L388.1,273.0 L388.6,273.0 L388.6,274.9 L389.5,274.9 L389.5,276.8 L390.0,276.8 L391.2,276.8 L391.2,278.7 L392.5,278.7 L393.1,278.7 L393.1,280.0 L393.8,280.0 L395.1,280.0 L395.1,281.6 L396.3,281.6 L396.9,281.6 L396.9,282.5 L397.5,282.5 L398.1,282.5 L398.1,285.7 L398.8,285.7 L399.8,285.7 L399.8,288.3 L400.7,288.3 L402.0,288.3 L402.0,289.5 L403.3,289.5 L404.2,289.5 L404.2,292.1 L405.2,292.1 L406.4,292.1 L406.4,294.6 L407.7,294.6 L409.0,294.6 L409.0,296.5 L410.3,296.5 L411.2,296.5 L411.2,296.9 L413.2,296.9 L413.2,297.2 L414.1,297.2 L415.1,297.2 L415.1,300.4 L416.0,300.4 L416.6,300.4 L416.6,302.6 L417.3,302.6 L441.4,302.6 L441.8,302.6 L441.8,304.5 L442.1,304.5 L443.1,304.5 L443.1,304.8 L444.9,304.8 L444.9,305.0 L445.9,305.0 L446.2,305.0 L446.2,307.1 L446.5,307.1 L447.9,307.1 L447.9,307.2 L450.6,307.2 L450.6,307.4 L452.0,307.4 L452.4,307.4 L452.4,310.5 L452.9,310.5 L453.5,310.5 L453.5,312.4 L454.2,312.4 L454.7,312.4 L454.7,315.5 L455.2,315.5 L456.1,315.5 L456.1,317.8 L457.0,317.8 L461.1,318.0 L461.2,318.0 L461.2,320.6 L461.4,320.6 L461.4,323.1 L461.5,323.1 L469.6,323.1 L469.7,323.1 L469.7,325.6 L469.8,325.6 L469.8,328.1 L469.9,328.1 L469.9,330.6 L470.0,330.6 L486.8,330.6 L486.8,330.6 L486.8,333.0 L486.9,333.0 L486.9,335.4 L487.0,335.4 L487.0,337.8 L487.1,337.8 L487.1,340.2 L487.1,340.2 L498.5,340.2" fill="none" stroke="#64af32" stroke-width="1.5" stroke-linejoin="miter" stroke-linecap="butt"/>
<path d="M316.6,219.9 L321.4,219.9 L322.4,219.9 L322.4,221.4 L323.3,221.4 L324.9,221.4 L324.9,222.0 L326.5,222.0 L327.4,222.0 L327.4,222.7 L329.4,222.7 L329.4,223.3 L330.3,223.3 L331.9,223.3 L331.9,224.5 L333.4,224.5 L334.4,224.5 L334.4,224.7 L336.3,224.7 L336.3,224.9 L337.3,224.9 L338.9,224.9 L338.9,227.1 L340.4,227.1 L342.0,227.1 L342.0,229.0 L343.6,229.0 L345.2,229.0 L345.2,231.3 L346.8,231.3 L347.8,231.3 L347.8,232.1 L349.7,232.1 L349.7,232.8 L350.6,232.8 L351.6,232.8 L351.6,233.6 L353.4,233.6 L353.4,234.3 L354.4,234.3 L355.5,234.3 L355.5,234.9 L357.8,234.9 L357.8,235.6 L358.9,235.6 L359.9,235.6 L359.9,236.9 L360.8,236.9 L362.1,236.9 L362.1,238.2 L363.3,238.2 L364.3,238.2 L364.3,239.0 L366.2,239.0 L366.2,239.8 L367.2,239.8 L368.1,239.8 L368.1,240.8 L370.1,240.8 L370.1,241.7 L371.0,241.7 L371.9,241.7 L371.9,242.3 L373.9,242.3 L373.9,243.0 L374.8,243.0 L376.4,243.0 L376.4,245.0 L377.9,245.0 L378.8,245.0 L378.8,245.9 L380.8,245.9 L380.8,246.9 L381.7,246.9 L382.6,246.9 L382.6,247.9 L384.6,247.9 L384.6,248.8 L385.5,248.8 L386.5,248.8 L386.5,249.9 L388.4,249.9 L388.4,251.1 L389.4,251.1 L390.3,251.1 L390.3,252.0 L392.2,252.0 L392.2,252.9 L393.2,252.9 L394.1,252.9 L394.1,253.7 L396.1,253.7 L396.1,254.5 L397.0,254.5 L398.1,254.5 L398.1,255.3 L400.3,255.3 L400.3,256.2 L401.4,256.2 L402.7,256.2 L402.7,258.4 L404.0,258.4 L405.6,258.4 L405.6,260.3 L407.2,260.3 L408.8,260.3 L408.8,261.5 L410.3,261.5 L410.8,261.5 L410.8,262.8 L411.2,262.8 L411.9,262.8 L411.9,265.5 L412.7,265.5 L413.6,265.5 L413.6,265.8 L415.3,265.8 L415.3,266.1 L416.2,266.1 L417.8,266.1 L417.8,266.8 L419.4,266.8 L420.1,266.8 L420.1,269.0 L420.9,269.0 L422.0,269.0 L422.0,269.7 L423.2,269.7 L424.8,269.7 L424.8,270.0 L426.4,270.0 L427.5,270.0 L427.5,271.0 L428.7,271.0 L429.9,271.0 L429.9,271.5 L431.0,271.5 L434.9,271.5 L435.3,271.5 L435.3,272.8 L435.7,272.8 L437.2,272.8 L437.2,273.3 L438.8,273.3 L439.6,273.3 L439.6,274.1 L440.4,274.1 L443.5,274.3 L443.9,274.3 L443.9,276.0 L444.3,276.0 L445.5,276.0 L445.5,276.4 L446.6,276.4 L447.1,276.4 L447.1,279.1 L447.6,279.1 L448.6,279.1 L448.6,279.8 L450.7,279.8 L450.7,280.4 L451.7,280.4 L452.9,280.4 L452.9,282.8 L454.0,282.8 L454.4,282.8 L454.4,284.8 L455.2,284.8 L455.2,286.7 L455.6,286.7 L456.8,286.7 L456.8,287.0 L459.1,287.0 L459.1,287.4 L460.3,287.4 L461.5,287.4 L461.5,287.8 L463.8,287.8 L463.8,288.2 L465.0,288.2 L466.1,288.2 L466.1,289.2 L468.5,289.2 L468.5,290.2 L469.6,290.2 L470.4,290.2 L470.4,291.1 L471.2,291.1 L477.4,291.1 L478.4,291.1 L478.4,293.4 L479.4,293.4 L480.4,293.4 L480.4,296.0 L481.5,296.0 L482.6,296.0 L482.6,298.0 L483.7,298.0 L484.6,298.0 L484.6,300.4 L485.5,300.4 L486.1,300.4 L486.1,302.9 L486.8,302.9 L496.5,302.9 L496.9,302.9 L496.9,305.7 L497.2,305.7 L502.8,305.9 L502.9,305.9 L502.9,308.1 L503.0,308.1 L503.0,310.4 L503.1,310.4 L503.1,312.6 L503.2,312.6 L507.1,312.6" fill="none" stroke="#aa1030" stroke-width="1.5" stroke-linejoin="miter" stroke-linecap="butt"/>
<g class="ones">
<path d="M40.00,28.80 L40.00,23.55 L38.92,24.34 L38.92,23.70 L40.05,22.81 L41.07,22.81 L41.07,28.80 Z" fill="#1a1a1a"/>
<path d="M213.00,168.70 L213.00,163.63 L211.95,164.39 L211.95,163.78 L213.05,162.92 L214.04,162.92 L214.04,168.70 Z" fill="#1a1a1a"/>
<path d="M245.00,168.70 L245.00,163.63 L243.95,164.39 L243.95,163.78 L245.05,162.92 L246.04,162.92 L246.04,168.70 Z" fill="#1a1a1a"/>
<path d="M243.00,32.30 L243.00,28.28 L242.04,28.89 L242.04,28.40 L243.05,27.72 L243.98,27.72 L243.98,32.30 Z" fill="#1a1a1a"/>
<path d="M232.00,42.20 L232.00,38.18 L230.96,38.79 L230.96,38.30 L232.05,37.62 L233.04,37.62 L233.04,42.20 Z" fill="#1a1a1a"/>
<path d="M301.00,28.80 L301.00,23.55 L299.92,24.34 L299.92,23.70 L301.05,22.81 L302.07,22.81 L302.07,28.80 Z" fill="#1a1a1a"/>
<path d="M474.00,168.70 L474.00,163.63 L472.95,164.39 L472.95,163.78 L474.05,162.92 L475.04,162.92 L475.04,168.70 Z" fill="#1a1a1a"/>
<path d="M506.00,168.70 L506.00,163.63 L504.95,164.39 L504.95,163.78 L506.05,162.92 L507.04,162.92 L507.04,168.70 Z" fill="#1a1a1a"/>
<path d="M504.00,32.30 L504.00,28.28 L503.04,28.89 L503.04,28.40 L504.05,27.72 L504.98,27.72 L504.98,32.30 Z" fill="#1a1a1a"/>
<path d="M493.00,42.20 L493.00,38.18 L491.96,38.79 L491.96,38.30 L493.05,37.62 L494.04,37.62 L494.04,42.20 Z" fill="#1a1a1a"/>
<path d="M348.00,147.10 L348.00,142.39 L347.11,143.10 L347.11,142.53 L348.05,141.73 L348.95,141.73 L348.95,147.10 Z" fill="#1a1a1a"/>
<path d="M40.00,223.00 L40.00,217.75 L38.92,218.54 L38.92,217.90 L40.05,217.01 L41.07,217.01 L41.07,223.00 Z" fill="#1a1a1a"/>
<path d="M213.00,362.90 L213.00,357.83 L211.95,358.59 L211.95,357.98 L213.05,357.12 L214.04,357.12 L214.04,362.90 Z" fill="#1a1a1a"/>
<path d="M245.00,362.90 L245.00,357.83 L243.95,358.59 L243.95,357.98 L245.05,357.12 L246.04,357.12 L246.04,362.90 Z" fill="#1a1a1a"/>
<path d="M243.00,226.50 L243.00,222.48 L242.04,223.09 L242.04,222.60 L243.05,221.92 L243.98,221.92 L243.98,226.50 Z" fill="#1a1a1a"/>
<path d="M232.00,236.40 L232.00,232.38 L230.96,232.99 L230.96,232.50 L232.05,231.82 L233.04,231.82 L233.04,236.40 Z" fill="#1a1a1a"/>
<path d="M89.00,343.20 L89.00,338.49 L88.09,339.20 L88.09,338.63 L89.05,337.83 L89.95,337.83 L89.95,343.20 Z" fill="#1a1a1a"/>
<path d="M301.00,223.00 L301.00,217.75 L299.92,218.54 L299.92,217.90 L301.05,217.01 L302.07,217.01 L302.07,223.00 Z" fill="#1a1a1a"/>
<path d="M474.00,362.90 L474.00,357.83 L472.95,358.59 L472.95,357.98 L474.05,357.12 L475.04,357.12 L475.04,362.90 Z" fill="#1a1a1a"/>
<path d="M506.00,362.90 L506.00,357.83 L504.95,358.59 L504.95,357.98 L506.05,357.12 L507.04,357.12 L507.04,362.90 Z" fill="#1a1a1a"/>
<path d="M488.00,265.00 L488.00,260.29 L487.11,261.00 L487.11,260.43 L488.05,259.63 L488.95,259.63 L488.95,265.00 Z" fill="#1a1a1a"/>
</g>
</svg>
</body></html>
